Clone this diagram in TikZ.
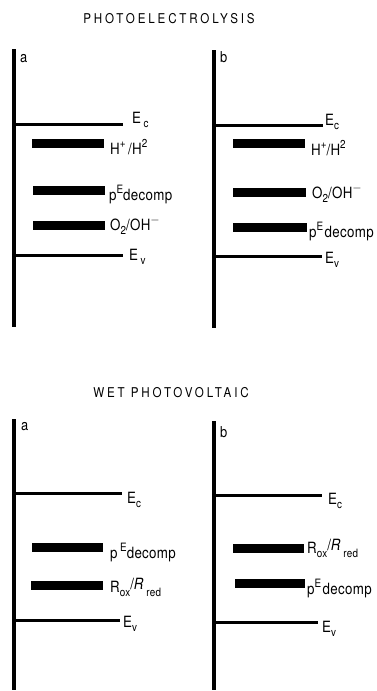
\documentclass[tikz,border=0pt]{standalone}
\usepackage{fontspec}
\setmainfont{TeX Gyre Heros}[FakeStretch=0.86]
% raised and lowered small text for the level labels
\newcommand{\hi}[1]{\raisebox{0.42em}{\fontsize{11.5}{12}\selectfont #1}}
\newcommand{\lo}[1]{\raisebox{-0.28em}{\fontsize{11.5}{12}\selectfont #1}}
\begin{document}
\begin{tikzpicture}[x=1pt,y=-1pt,
  axis/.style={line width=4pt},
  band/.style={line width=3pt},
  level/.style={line width=9pt},
  lbl/.style={anchor=base west,inner sep=0pt,font=\fontsize{15.5}{17}\selectfont\addfontfeatures{LetterSpace=2}},
  ttl/.style={anchor=base,inner sep=0pt,font=\fontsize{13.5}{15}\selectfont\addfontfeatures{LetterSpace=21}},
  tag/.style={anchor=base west,inner sep=0pt,font=\fontsize{15}{16}\selectfont}]
\useasboundingbox (0,0) rectangle (377,691);

% ---------- Photoelectrolysis ----------
\node[ttl] (t1) at (169,23) {PHOTOELECTROLYSIS};

% panel a
\coordinate (a1top) at (14,49);
\coordinate (a1bot) at (14,327);
\draw[axis] (a1top) -- (a1bot);
\node[tag] (a1) at (20,62) {a};
\coordinate (a1c) at (14,124);  \coordinate (a1ce) at (123,124);
\coordinate (a1v) at (14,255);  \coordinate (a1ve) at (123,255);
\draw[band] (a1c) -- (a1ce);
\draw[band] (a1v) -- (a1ve);
\node[lbl] (a1ec) at (132,123) {E\,\lo{c}};
\node[lbl] (a1ev) at (129,260) {E\,\lo{v}};
\coordinate (a1hs) at (32,143);  \coordinate (a1he) at (104,143);
\coordinate (a1ps) at (33,190);  \coordinate (a1pe) at (105,190);
\coordinate (a1os) at (33,225);  \coordinate (a1oe) at (105,225);
\draw[level] (a1hs) -- (a1he);
\draw[level] (a1ps) -- (a1pe);
\draw[level] (a1os) -- (a1oe);
\node[lbl] (a1h) at (110,154) {H\hi{+}\,/H\hi{2}};
\node[lbl] (a1p) at (109,200) {p\hi{E}decomp};
\node[lbl] (a1o) at (110,230) {O\lo{2}/OH\hi{$-$}};

% panel b
\coordinate (b1top) at (214,50);
\coordinate (b1bot) at (214,328);
\draw[axis] (b1top) -- (b1bot);
\node[tag] (b1) at (220,62) {b};
\coordinate (b1c) at (214,125);  \coordinate (b1ce) at (323,125);
\coordinate (b1v) at (214,256);  \coordinate (b1ve) at (322,256);
\draw[band] (b1c) -- (b1ce);
\draw[band] (b1v) -- (b1ve);
\node[lbl] (b1ec) at (325,125) {E\lo{c}};
\node[lbl] (b1ev) at (325,263) {E\lo{v}};
\coordinate (b1hs) at (233,143);  \coordinate (b1he) at (305,143);
\coordinate (b1os) at (233,192);  \coordinate (b1oe) at (306,192);
\coordinate (b1ps) at (233,227);  \coordinate (b1pe) at (307,227);
\draw[level] (b1hs) -- (b1he);
\draw[level] (b1os) -- (b1oe);
\draw[level] (b1ps) -- (b1pe);
\node[lbl] (b1h) at (311,155) {H\hi{+}/H\hi{2}};
\node[lbl] (b1o) at (312,198) {O\lo{2}/OH\hi{$-$}};
\node[lbl] (b1p) at (309,237) {p\hi{E}\hspace{1.5pt}decomp};

% ---------- Wet photovoltaic ----------
\node[ttl] (t2) at (171,397) {WET PHOTOVOLTAIC};

% panel a
\coordinate (a2top) at (14,419);
\coordinate (a2bot) at (14,690);
\draw[axis] (a2top) -- (a2bot);
\node[tag] (a2) at (21,430) {a};
\coordinate (a2c) at (14,493);  \coordinate (a2ce) at (122,493);
\coordinate (a2v) at (14,620);  \coordinate (a2ve) at (120,620);
\draw[band] (a2c) -- (a2ce);
\draw[band] (a2v) -- (a2ve);
\node[lbl] (a2ec) at (127,503) {E\lo{c}};
\node[lbl] (a2ev) at (123,627) {E\lo{v}};
\coordinate (a2ps) at (32,547);  \coordinate (a2pe) at (103,547);
\coordinate (a2rs) at (31,585);  \coordinate (a2re) at (103,585);
\draw[level] (a2ps) -- (a2pe);
\draw[level] (a2rs) -- (a2re);
\node[lbl] (a2p) at (110,558) {p\,\hi{E}decomp};
\node[lbl] (a2r) at (110,592) {R\lo{ox}\raisebox{0.15em}{/\textit{R}}\,\lo{red}};

% panel b
\coordinate (b2top) at (214,421);
\coordinate (b2bot) at (214,690);
\draw[axis] (b2top) -- (b2bot);
\node[tag] (b2) at (220,437) {b};
\coordinate (b2c) at (214,495);  \coordinate (b2ce) at (322,495);
\coordinate (b2v) at (214,622);  \coordinate (b2ve) at (318,622);
\draw[band] (b2c) -- (b2ce);
\draw[band] (b2v) -- (b2ve);
\node[lbl] (b2ec) at (328,504) {E\lo{c}};
\node[lbl] (b2ev) at (322,632) {E\lo{v}};
\coordinate (b2rs) at (233,548);  \coordinate (b2re) at (304,548);
\coordinate (b2ps) at (235,583);  \coordinate (b2pe) at (305,583);
\draw[level] (b2rs) -- (b2re);
\draw[level] (b2ps) -- (b2pe);
\node[lbl] (b2r) at (307,553) {R\lo{ox}\raisebox{0.15em}{/\textit{R}}\,\lo{red}};
\node[lbl] (b2p) at (307,594) {p\hi{E}\hspace{1.5pt}decomp};
\end{tikzpicture}
\end{document}
